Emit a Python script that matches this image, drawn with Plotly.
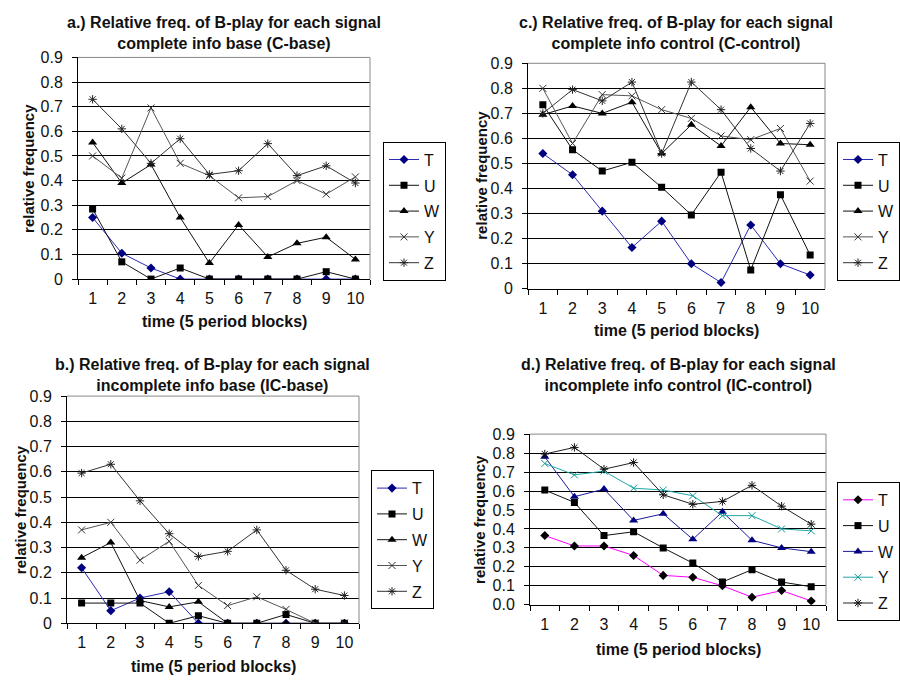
import plotly.graph_objects as go

# ---------------- data ----------------
periods = ["1", "2", "3", "4", "5", "6", "7", "8", "9", "10"]
signals = ["T", "U", "W", "Y", "Z"]

# a.) complete info base (C-base)
a_T = [0.25, 0.105, 0.045, 0, 0, 0, 0, 0, 0, 0]
a_U = [0.285, 0.07, 0, 0.045, 0, 0, 0, 0, 0.03, 0]
a_W = [0.555, 0.39, 0.465, 0.25, 0.065, 0.22, 0.09, 0.145, 0.17, 0.08]
a_Y = [0.50, 0.41, 0.695, 0.47, 0.42, 0.33, 0.335, 0.40, 0.345, 0.415]
a_Z = [0.73, 0.61, 0.47, 0.57, 0.425, 0.44, 0.55, 0.42, 0.46, 0.39]

# c.) complete info control (C-control)
c_T = [0.54, 0.455, 0.31, 0.165, 0.27, 0.10, 0.025, 0.255, 0.10, 0.055]
c_U = [0.735, 0.555, 0.47, 0.505, 0.405, 0.295, 0.465, 0.075, 0.375, 0.135]
c_W = [0.695, 0.73, 0.70, 0.745, 0.54, 0.655, 0.57, 0.725, 0.58, 0.575]
c_Y = [0.80, 0.58, 0.775, 0.77, 0.715, 0.68, 0.61, 0.595, 0.64, 0.43]
c_Z = [0.70, 0.795, 0.75, 0.825, 0.54, 0.825, 0.715, 0.56, 0.47, 0.66]

# b.) incomplete info base (IC-base)
b_T = [0.22, 0.05, 0.10, 0.125, 0, 0, 0, 0, 0, 0]
b_U = [0.08, 0.08, 0.08, 0, 0.03, 0, 0, 0.035, 0, 0]
b_W = [0.26, 0.32, 0.09, 0.065, 0.085, 0, 0, 0, 0, 0]
b_Y = [0.37, 0.40, 0.25, 0.325, 0.15, 0.07, 0.105, 0.055, 0, 0]
b_Z = [0.595, 0.63, 0.485, 0.355, 0.265, 0.285, 0.37, 0.21, 0.135, 0.11]

# d.) incomplete info control (IC-control)
d_T = [0.365, 0.31, 0.31, 0.26, 0.155, 0.145, 0.10, 0.04, 0.075, 0.02]
d_U = [0.605, 0.54, 0.365, 0.385, 0.30, 0.22, 0.12, 0.185, 0.12, 0.095]
d_W = [0.78, 0.57, 0.61, 0.445, 0.48, 0.345, 0.49, 0.34, 0.30, 0.28]
d_Y = [0.745, 0.685, 0.705, 0.615, 0.605, 0.575, 0.47, 0.47, 0.40, 0.39]
d_Z = [0.795, 0.83, 0.715, 0.75, 0.58, 0.53, 0.545, 0.63, 0.52, 0.425]

y_tickvals = [0, 0.1, 0.2, 0.3, 0.4, 0.5, 0.6, 0.7, 0.8, 0.9]
y_ticktext_plain = ["0", "0.1", "0.2", "0.3", "0.4", "0.5", "0.6", "0.7", "0.8", "0.9"]
y_ticktext_d = ["0.0", "0.1", "0.2", "0.3", "0.4", "0.5", "0.6", "0.7", "0.8", "0.9"]

titles = {
    "a": "a.) Relative freq. of B-play for each signal<br>complete info base (C-base)",
    "c": "c.) Relative freq. of B-play for each signal<br>complete info control (C-control)",
    "b": "b.) Relative freq. of B-play for each signal<br>incomplete info base (IC-base)",
    "d": "d.) Relative freq. of B-play for each signal<br>incomplete info control (IC-control)",
}
x_title = "time (5 period blocks)"
y_title = "relative frequency"

# ---------------- styling ----------------
FONT = "Liberation Sans, Arial, sans-serif"
W_PX, H_PX = 900, 683


def px_x(v):
    return v / W_PX


def px_y(v):
    return 1 - v / H_PX


base_style = {
    "T": dict(line=dict(color="#2a2ab4", width=1),
              marker=dict(symbol="diamond", color="#000080", size=7)),
    "U": dict(line=dict(color="#111111", width=1),
              marker=dict(symbol="square", color="#000000", size=7)),
    "W": dict(line=dict(color="#111111", width=1),
              marker=dict(symbol="triangle-up", color="#000000", size=8)),
    "Y": dict(line=dict(color="#555555", width=1),
              marker=dict(symbol="x-thin-open", color="#333333", size=7,
                          line=dict(width=1, color="#333333"))),
    "Z": dict(line=dict(color="#333333", width=1),
              marker=dict(symbol="asterisk-open", color="#222222", size=7,
                          line=dict(width=1, color="#222222"))),
}
d_style = {
    "T": dict(line=dict(color="#ff00ff", width=1),
              marker=dict(symbol="diamond", color="#000000", size=7)),
    "U": base_style["U"],
    "W": dict(line=dict(color="#1a1a99", width=1),
              marker=dict(symbol="triangle-up", color="#000080", size=8)),
    "Y": dict(line=dict(color="#22a8a8", width=1),
              marker=dict(symbol="x-thin-open", color="#119999", size=7,
                          line=dict(width=1, color="#119999"))),
    "Z": dict(line=dict(color="#222222", width=1),
              marker=dict(symbol="asterisk-open", color="#111111", size=7,
                          line=dict(width=1, color="#111111"))),
}

# panel layout in pixels: plot area left, right, top(0.9), bottom(0)
panels = [
    dict(key="a", ax="", data=[a_T, a_U, a_W, a_Y, a_Z], style=base_style,
         box=(78, 370, 50.7, 278), legend="legend", leg=(383, 137),
         ttl=(224, 26), xt=322, yt=(29, 165), ticktext=y_ticktext_plain),
    dict(key="c", ax="2", data=[c_T, c_U, c_W, c_Y, c_Z], style=base_style,
         box=(528, 825, 56.7, 288), legend="legend2", leg=(837, 137),
         ttl=(676, 26), xt=331, yt=(482, 172), ticktext=y_ticktext_plain),
    dict(key="b", ax="3", data=[b_T, b_U, b_W, b_Y, b_Z], style=base_style,
         box=(67, 359, 398, 631), legend="legend3", leg=(371, 474),
         ttl=(212, 376), xt=675, yt=(20, 515), ticktext=y_ticktext_plain),
    dict(key="d", ax="4", data=[d_T, d_U, d_W, d_Y, d_Z], style=d_style,
         box=(530, 826, 437, 612), legend="legend4", leg=(837, 486),
         ttl=(678, 376), xt=658, yt=(480, 525), ticktext=y_ticktext_d),
]

fig = go.Figure()
layout = dict(
    width=W_PX, height=H_PX, autosize=False,
    margin=dict(l=0, r=0, t=0, b=0),
    paper_bgcolor="white", plot_bgcolor="white",
    font=dict(family=FONT, color="black", size=16),
    annotations=[], shapes=[],
)

for p in panels:
    ax = p["ax"]
    xref = "x" + ax
    yref = "y" + ax
    for name, vals in zip(signals, p["data"]):
        st = p["style"][name]
        fig.add_trace(go.Scatter(
            x=periods, y=vals, name=name, mode="lines+markers",
            line=st["line"], marker=st["marker"],
            xaxis=xref, yaxis=yref, legend=p["legend"],
            legendgroup=p["key"] + name, showlegend=True,
            hoverinfo="skip",
        ))
    l, r, t, b = p["box"]
    layout["xaxis" + ax] = dict(
        domain=[px_x(l), px_x(r)], anchor=yref, type="category",
        range=[-0.5, 9.5], tickson="boundaries", ticks="outside",
        ticklen=5, tickcolor="black", showline=True, linecolor="black",
        linewidth=1, showgrid=False, zeroline=False,
        tickfont=dict(family=FONT, size=16, color="#111111"),
        ticklabelstandoff=5, fixedrange=True,
    )
    layout["yaxis" + ax] = dict(
        domain=[px_y(b), px_y(t)], anchor=xref, range=[0, 0.9],
        tickvals=y_tickvals, ticktext=p["ticktext"], ticks="outside",
        ticklen=5, tickcolor="black", showline=True, linecolor="black",
        linewidth=1, showgrid=True, gridcolor="black", gridwidth=1,
        zeroline=False, tickfont=dict(family=FONT, size=16, color="#111111"),
        ticklabelstandoff=6, fixedrange=True,
    )
    layout[p["legend"]] = dict(
        x=px_x(p["leg"][0]), y=px_y(p["leg"][1]), xanchor="left",
        yanchor="top", xref="paper", yref="paper",
        bgcolor="white", bordercolor="black", borderwidth=1,
        font=dict(family=FONT, size=16, color="#111111"),
        traceorder="grouped", tracegroupgap=2, itemwidth=30,
    )
    # gray top and right border of the plot area
    layout["shapes"].append(dict(type="line", xref=xref + " domain",
                                 yref=yref + " domain", x0=0, x1=1, y0=1, y1=1,
                                 line=dict(color="#888888", width=1), layer="above"))
    layout["shapes"].append(dict(type="line", xref=xref + " domain",
                                 yref=yref + " domain", x0=1, x1=1, y0=0, y1=1,
                                 line=dict(color="#888888", width=1), layer="above"))
    # panel title
    layout["annotations"].append(dict(
        text="<b>" + titles[p["key"]] + "</b>", xref="paper", yref="paper",
        x=px_x(p["ttl"][0]), y=px_y(p["ttl"][1]), xanchor="center",
        yanchor="middle", showarrow=False,
        font=dict(family=FONT, size=16, color="#111111"),
    ))
    # x axis title
    layout["annotations"].append(dict(
        text="<b>" + x_title + "</b>", xref="paper", yref="paper",
        x=px_x((l + r) / 2), y=px_y(p["xt"]), xanchor="center",
        yanchor="middle", showarrow=False,
        font=dict(family=FONT, size=16, color="#111111"),
    ))
    # y axis title
    layout["annotations"].append(dict(
        text="<b>" + y_title + "</b>", xref="paper", yref="paper",
        x=px_x(p["yt"][0]), y=px_y(p["yt"][1]), xanchor="center",
        yanchor="middle", showarrow=False, textangle=-90,
        font=dict(family=FONT, size=15, color="#111111"),
    ))

fig.update_layout(**layout)
fig.write_html(
    "out.html",
    config={"displayModeBar": False},
    post_script="document.body.style.margin='0';document.body.style.overflow='hidden';",
)
